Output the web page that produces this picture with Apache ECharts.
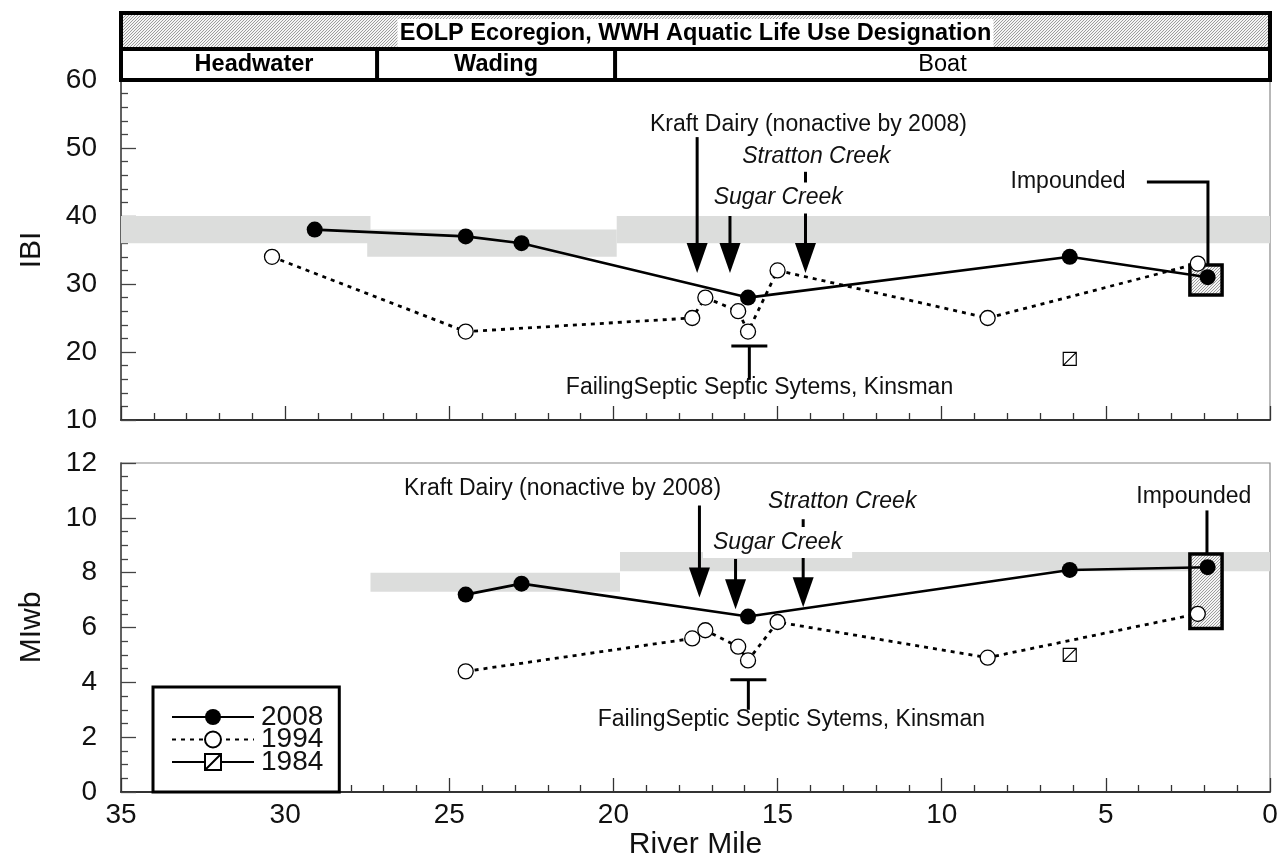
<!DOCTYPE html>
<html><head><meta charset="utf-8">
<script src="https://cdn.jsdelivr.net/npm/echarts@6/dist/echarts.min.js"></script>
<style>html,body{margin:0;padding:0;background:#fff}#c{width:1281px;height:861px}</style>
</head><body><div id="c"></div>
<script>
// ---------- data (river mile, value) ----------
const ibi2008  = [[29.1,38],[24.5,37],[22.8,36],[15.9,28],[6.1,34],[1.9,31]];
const ibi1994  = [[30.4,34],[24.5,23],[17.6,25],[17.2,28],[16.2,26],[15.9,23],[15.0,32],[8.6,25],[2.2,33]];
const ibi1984  = [[6.1,19]];
const miwb2008 = [[24.5,7.2],[22.8,7.6],[15.9,6.4],[6.1,8.1],[1.9,8.2]];
const miwb1994 = [[24.5,4.4],[17.6,5.6],[17.2,5.9],[16.2,5.3],[15.9,4.8],[15.0,6.2],[8.6,4.9],[2.2,6.5]];
const miwb1984 = [[6.1,5.0]];
// criteria bands: [mileFrom, mileTo, low, high]
const ibiBands  = [[35,27.4,36,40],[27.5,19.9,34,38],[19.9,0,36,40]];
const miwbBands = [[27.4,19.8,7.3,8.0],[19.8,0,8.05,8.75]];
// impounded boxes: [mileFrom, mileTo, low, high]
const ibiImpounded  = [[2.44,1.46,28.4,32.8]];
const miwbImpounded = [[2.44,1.46,5.96,8.68]];
// use designation segments: [label, mileFrom, mileTo, weight]
const useSegments = [['Headwater',35,27.2,'bold'],['Wading',27.2,19.95,'bold'],['Boat',19.95,0,'normal']];
const headerTitle = 'EOLP Ecoregion, WWH Aquatic Life Use Designation';
// annotations
const ibiArrows  = [[17.45,51.6,31.6],[16.45,40,31.6],[14.15,46.5,31.6]];
const miwbArrows = [[17.38,10.45,7.09],[16.28,8.5,6.67],[14.22,9.95,6.74]];
const ibiSeptic  = [15.86,20.9,15.9];
const miwbSeptic = [15.89,4.09,3.0];
const ibiCallout  = [[3.75,45],[1.89,45],[1.89,32.8]];
const miwbCallout = [[1.92,10.27],[1.92,8.68]];
const ibiLabels = [
  ['Kraft Dairy (nonactive by 2008)',14.06,53.4,'normal',false],
  ['Stratton Creek',13.82,48.7,'italic',false],
  ['Sugar Creek',14.98,42.65,'italic',true],
  ['FailingSeptic Septic Sytems, Kinsman',15.55,14.7,'normal',false],
  ['Impounded',6.15,45,'normal',false]
];
const miwbLabels = [
  ['Kraft Dairy (nonactive by 2008)',21.55,11.05,'normal',false],
  ['Stratton Creek',13.03,10.59,'italic',false],
  ['Sugar Creek',15.0,9.1,'italic',true],
  ['FailingSeptic Septic Sytems, Kinsman',14.58,2.65,'normal',false],
  ['Impounded',2.32,10.76,'normal',false]
];

const FONT = '"Liberation Sans", Arial, Helvetica, sans-serif';

// hatch pattern
const pc = document.createElement('canvas'); pc.width = 3; pc.height = 3;
const g = pc.getContext('2d');
g.fillStyle = '#f4f4f4'; g.fillRect(0,0,3,3);
g.fillStyle = '#9c9c9c';
g.fillRect(2,0,1,1); g.fillRect(1,1,1,1); g.fillRect(0,2,1,1);
const hatch = {image: pc, repeat: 'repeat'};

const chart = echarts.init(document.getElementById('c'), null, {renderer:'canvas'});

function bandSeries(data, xi){
  return {type:'custom', xAxisIndex:xi, yAxisIndex:xi, silent:true, z:1, data:data,
    encode:{x:[0,1], y:[2,3]},
    renderItem:function(p, api){
      const a = api.coord([api.value(0), api.value(3)]);
      const b = api.coord([api.value(1), api.value(2)]);
      return {type:'rect', shape:{x:Math.min(a[0],b[0]), y:Math.min(a[1],b[1]), width:Math.abs(b[0]-a[0]), height:Math.abs(b[1]-a[1])},
        style:{fill:'#dcdddc'}};
    }};
}
function boxSeries(data, xi){
  return {type:'custom', xAxisIndex:xi, yAxisIndex:xi, silent:true, z:2, data:data,
    encode:{x:[0,1], y:[2,3]},
    renderItem:function(p, api){
      const a = api.coord([api.value(0), api.value(3)]);
      const b = api.coord([api.value(1), api.value(2)]);
      return {type:'rect', shape:{x:Math.min(a[0],b[0]), y:Math.min(a[1],b[1]), width:Math.abs(b[0]-a[0]), height:Math.abs(b[1]-a[1])},
        style:{fill:hatch, stroke:'#000', lineWidth:3.5}};
    }};
}
function annotSeries(xi, arrows, septic, callout, labels){
  return {type:'custom', xAxisIndex:xi, yAxisIndex:xi, silent:true, z:6, data:[[callout[0][0], callout[0][1]]],
    renderItem:function(p, api){
      const ch = [];
      arrows.forEach(function(a){
        const p0 = api.coord([a[0],a[1]]), p1 = api.coord([a[0],a[2]]);
        ch.push({type:'line', shape:{x1:p0[0],y1:p0[1],x2:p1[0],y2:p1[1]-26}, style:{stroke:'#000',lineWidth:3}});
        ch.push({type:'polygon', shape:{points:[[p1[0]-10.5,p1[1]-30],[p1[0]+10.5,p1[1]-30],[p1[0],p1[1]]]}, style:{fill:'#000'}});
      });
      const s0 = api.coord([septic[0],septic[1]]), s1 = api.coord([septic[0],septic[2]]);
      ch.push({type:'line', shape:{x1:s0[0]-18,y1:s0[1],x2:s0[0]+18,y2:s0[1]}, style:{stroke:'#000',lineWidth:3}});
      ch.push({type:'line', shape:{x1:s0[0],y1:s0[1],x2:s1[0],y2:s1[1]}, style:{stroke:'#000',lineWidth:3}});
      ch.push({type:'polyline', shape:{points:callout.map(function(c){return api.coord(c);})}, style:{stroke:'#000',lineWidth:3,fill:null}});
      labels.forEach(function(l){
        const c = api.coord([l[1],l[2]]);
        const st = {text:l[0], fill:'#111', fontSize:23, fontFamily:FONT, fontStyle:l[3], align:'center', verticalAlign:'middle'};
        if (l[4]) { st.backgroundColor = '#fff'; st.padding = [4,10,4,10]; }
        ch.push({type:'text', x:c[0], y:c[1], style:st});
      });
      return {type:'group', children:ch};
    }};
}

const sqPath = 'path://M0,0L10,0L10,10L0,10Z M0,10L10,0';
function lineSet(xi, d08, d94, d84){
  return [
    {name:'1994', type:'line', xAxisIndex:xi, yAxisIndex:xi, data:d94, z:4, symbol:'circle', symbolSize:15,
      itemStyle:{color:'#fff', borderColor:'#000', borderWidth:1.3},
      lineStyle:{color:'#000', width:2.8, type:[4,5]}},
    {name:'2008', type:'line', xAxisIndex:xi, yAxisIndex:xi, data:d08, z:5, symbol:'circle', symbolSize:16,
      itemStyle:{color:'#000', borderColor:'#000', borderWidth:0},
      lineStyle:{color:'#000', width:2.6}},
    {name:'1984', type:'line', xAxisIndex:xi, yAxisIndex:xi, data:d84, z:4, symbol:sqPath, symbolSize:13,
      itemStyle:{color:'#fff', borderColor:'#000', borderWidth:1.2},
      lineStyle:{color:'#000', width:2.6}}
  ];
}

function xAx(gi, showLabel){
  return {gridIndex:gi, type:'value', min:0, max:35, interval:5, inverse:true,
    axisLine:{show:true, onZero:false, lineStyle:{color:'#333', width:2}},
    axisTick:{show:true, inside:true, length:14, lineStyle:{color:'#333', width:1.3}},
    minorTick:{show:true, splitNumber:5, length:7, lineStyle:{color:'#333', width:1.3}},
    splitLine:{show:false}, minorSplitLine:{show:false},
    axisLabel:{show:showLabel, fontSize:28, color:'#111', fontFamily:FONT, margin:9},
    name: showLabel ? 'River Mile' : '', nameLocation:'middle', nameGap:38,
    nameTextStyle:{fontSize:30, color:'#111', fontFamily:FONT}};
}
function yAx(gi, min, max, interval, minorSplit, name){
  return {gridIndex:gi, type:'value', min:min, max:max, interval:interval,
    axisLine:{show:true, onZero:false, lineStyle:{color:'#444', width:1.5}},
    axisTick:{show:true, inside:true, length:15, lineStyle:{color:'#444', width:1.3}},
    minorTick:{show:true, splitNumber:minorSplit, length:7, lineStyle:{color:'#444', width:1.3}},
    splitLine:{show:false}, minorSplitLine:{show:false},
    axisLabel:{fontSize:28, color:'#111', fontFamily:FONT, margin:24},
    name:name, nameLocation:'middle', nameGap:74,
    nameTextStyle:{fontSize:30, color:'#111', fontFamily:FONT}};
}

chart.setOption({
  animation:false,
  backgroundColor:'#fff',
  grid:[
    {left:121, right:11, top:80, height:340, show:true, borderColor:'#888', borderWidth:1.2},
    {left:121, right:11, top:463, height:340, show:true, borderColor:'#888', borderWidth:1.2}
  ],
  xAxis:[xAx(0,false), xAx(1,true)],
  yAxis:[yAx(0,10,60,10,5,'IBI'), yAx(1,0,12,2,4,'MIwb')],
  legend:{
    data:['2008','1994','1984'], orient:'vertical', left:153, top:687,
    itemWidth:82, itemHeight:20, itemGap:-5.5, padding:[16,16,16,18],
    borderColor:'#000', borderWidth:3, backgroundColor:'#fff', selectedMode:false,
    textStyle:{fontSize:28, color:'#111', fontFamily:FONT, padding:[0,0,0,2]}
  },
  series:[
    bandSeries(ibiBands,0), bandSeries(miwbBands,1),
    boxSeries(ibiImpounded,0), boxSeries(miwbImpounded,1)
  ].concat(lineSet(0, ibi2008, ibi1994, ibi1984))
   .concat(lineSet(1, miwb2008, miwb1994, miwb1984))
   .concat([
     annotSeries(0, ibiArrows, ibiSeptic, ibiCallout, ibiLabels),
     annotSeries(1, miwbArrows, miwbSeptic, miwbCallout, miwbLabels)
   ])
});

// header table drawn from the use segments via the axis scale
const pxL = chart.convertToPixel({xAxisIndex:0}, 35);
const pxR = chart.convertToPixel({xAxisIndex:0}, 0);
const hTop = 13, hMid = 49, hBot = 80;
const gr = [];
gr.push({type:'rect', shape:{x:pxL, y:hTop, width:pxR-pxL, height:hMid-hTop}, style:{fill:hatch}, z:10});
gr.push({type:'rect', shape:{x:pxL, y:hMid, width:pxR-pxL, height:hBot-hMid}, style:{fill:'#fff'}, z:10});
const hcx = (pxL+pxR)/2;
gr.push({type:'rect', shape:{x:hcx-298, y:19, width:596, height:hMid-19}, style:{fill:'#fff'}, z:11});
gr.push({type:'text', x:hcx, y:34, style:{text:headerTitle, fontSize:23.5, fontWeight:'bold', fontFamily:FONT, fill:'#000', align:'center', verticalAlign:'middle'}, z:12});
useSegments.forEach(function(s, i){
  const a = chart.convertToPixel({xAxisIndex:0}, s[1]);
  const b = chart.convertToPixel({xAxisIndex:0}, s[2]);
  gr.push({type:'text', x:(a+b)/2 + (i === 0 ? 5 : 0), y:65, style:{text:s[0], fontSize:23.5, fontWeight:s[3], fontFamily:FONT, fill:'#000', align:'center', verticalAlign:'middle'}, z:12});
  if (i > 0) gr.push({type:'line', shape:{x1:a, y1:hMid, x2:a, y2:hBot}, style:{stroke:'#000', lineWidth:4}, z:13});
});
gr.push({type:'line', shape:{x1:pxL, y1:hMid, x2:pxR, y2:hMid}, style:{stroke:'#000', lineWidth:4}, z:13});
gr.push({type:'rect', shape:{x:pxL, y:hTop, width:pxR-pxL, height:hBot-hTop}, style:{fill:null, stroke:'#000', lineWidth:4}, z:13});
chart.setOption({graphic:gr});
</script>
</body></html>
